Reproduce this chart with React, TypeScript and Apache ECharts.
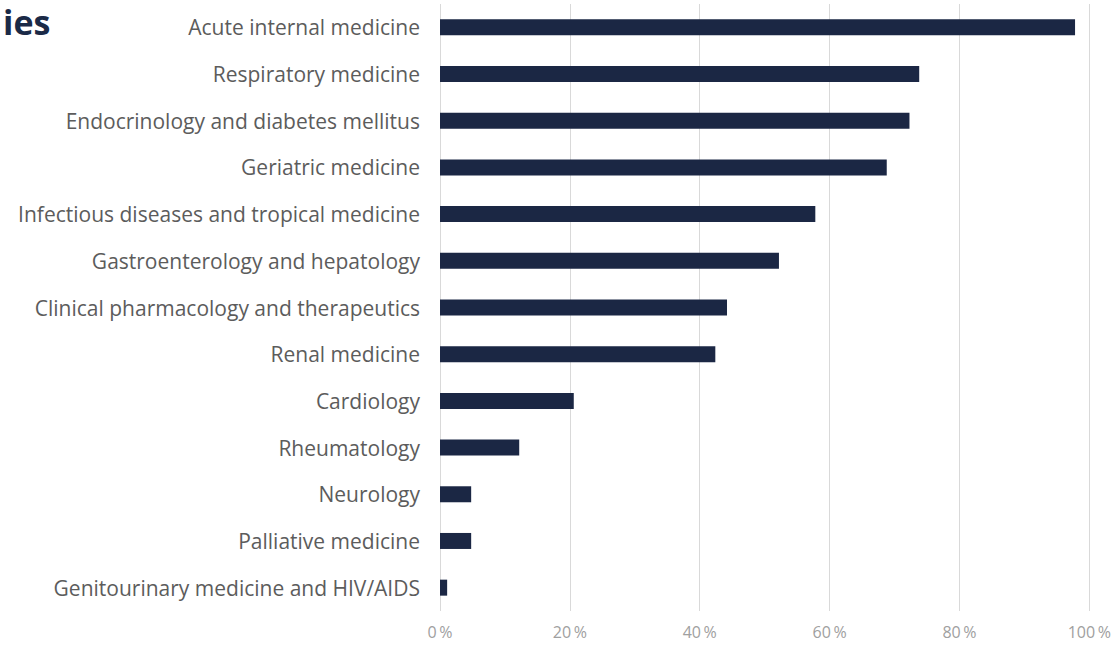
import React, { useEffect, useRef } from "react";
import * as echarts from "echarts";

const categories = [
  "Acute internal medicine",
  "Respiratory medicine",
  "Endocrinology and diabetes mellitus",
  "Geriatric medicine",
  "Infectious diseases and tropical medicine",
  "Gastroenterology and hepatology",
  "Clinical pharmacology and therapeutics",
  "Renal medicine",
  "Cardiology",
  "Rheumatology",
  "Neurology",
  "Palliative medicine",
  "Genitourinary medicine and HIV/AIDS",
];

const values = [97.8, 73.8, 72.3, 68.8, 57.8, 52.2, 44.2, 42.4, 20.6, 12.2, 4.8, 4.8, 1.1];

const titleText = "ies";

export default function App() {
  const ref = useRef<HTMLDivElement>(null);
  useEffect(() => {
    const chart = echarts.init(ref.current!, null, { renderer: "svg" });
    chart.setOption({
      animation: false,
      backgroundColor: "#ffffff",
      graphic: [
        {
          type: "text",
          left: 3,
          top: 5,
          style: {
            text: titleText,
            fill: "#1b2a47",
            font: "bold 34px 'Open Sans', sans-serif",
          },
        },
      ],
      grid: { left: 440, right: 19, top: 4, bottom: 35, containLabel: false },
      xAxis: {
        type: "value",
        min: 0,
        max: 100,
        interval: 20,
        axisLine: { show: false },
        axisTick: { show: false },
        splitLine: { show: true, lineStyle: { color: "#d9d9d9", width: 1 } },
        axisLabel: {
          formatter: (v: number) => v + "\u2009%",
          color: "#a0a0a0",
          fontSize: 16,
          fontFamily: "'Open Sans', sans-serif",
          margin: 13,
        },
      },
      yAxis: {
        type: "category",
        data: categories,
        inverse: true,
        axisLine: { show: false },
        axisTick: { show: false },
        splitLine: { show: false },
        axisLabel: {
          color: "#5c5c5c",
          fontSize: 21,
          fontFamily: "'Open Sans', sans-serif",
          margin: 20,
        },
      },
      series: [
        {
          type: "bar",
          data: values,
          barWidth: 16,
          itemStyle: { color: "#1b2744" },
        },
      ],
    });
    return () => chart.dispose();
  }, []);
  return (
    <div
      ref={ref}
      style={{ position: "fixed", left: 0, top: 0, width: 1114, height: 646 }}
    />
  );
}
